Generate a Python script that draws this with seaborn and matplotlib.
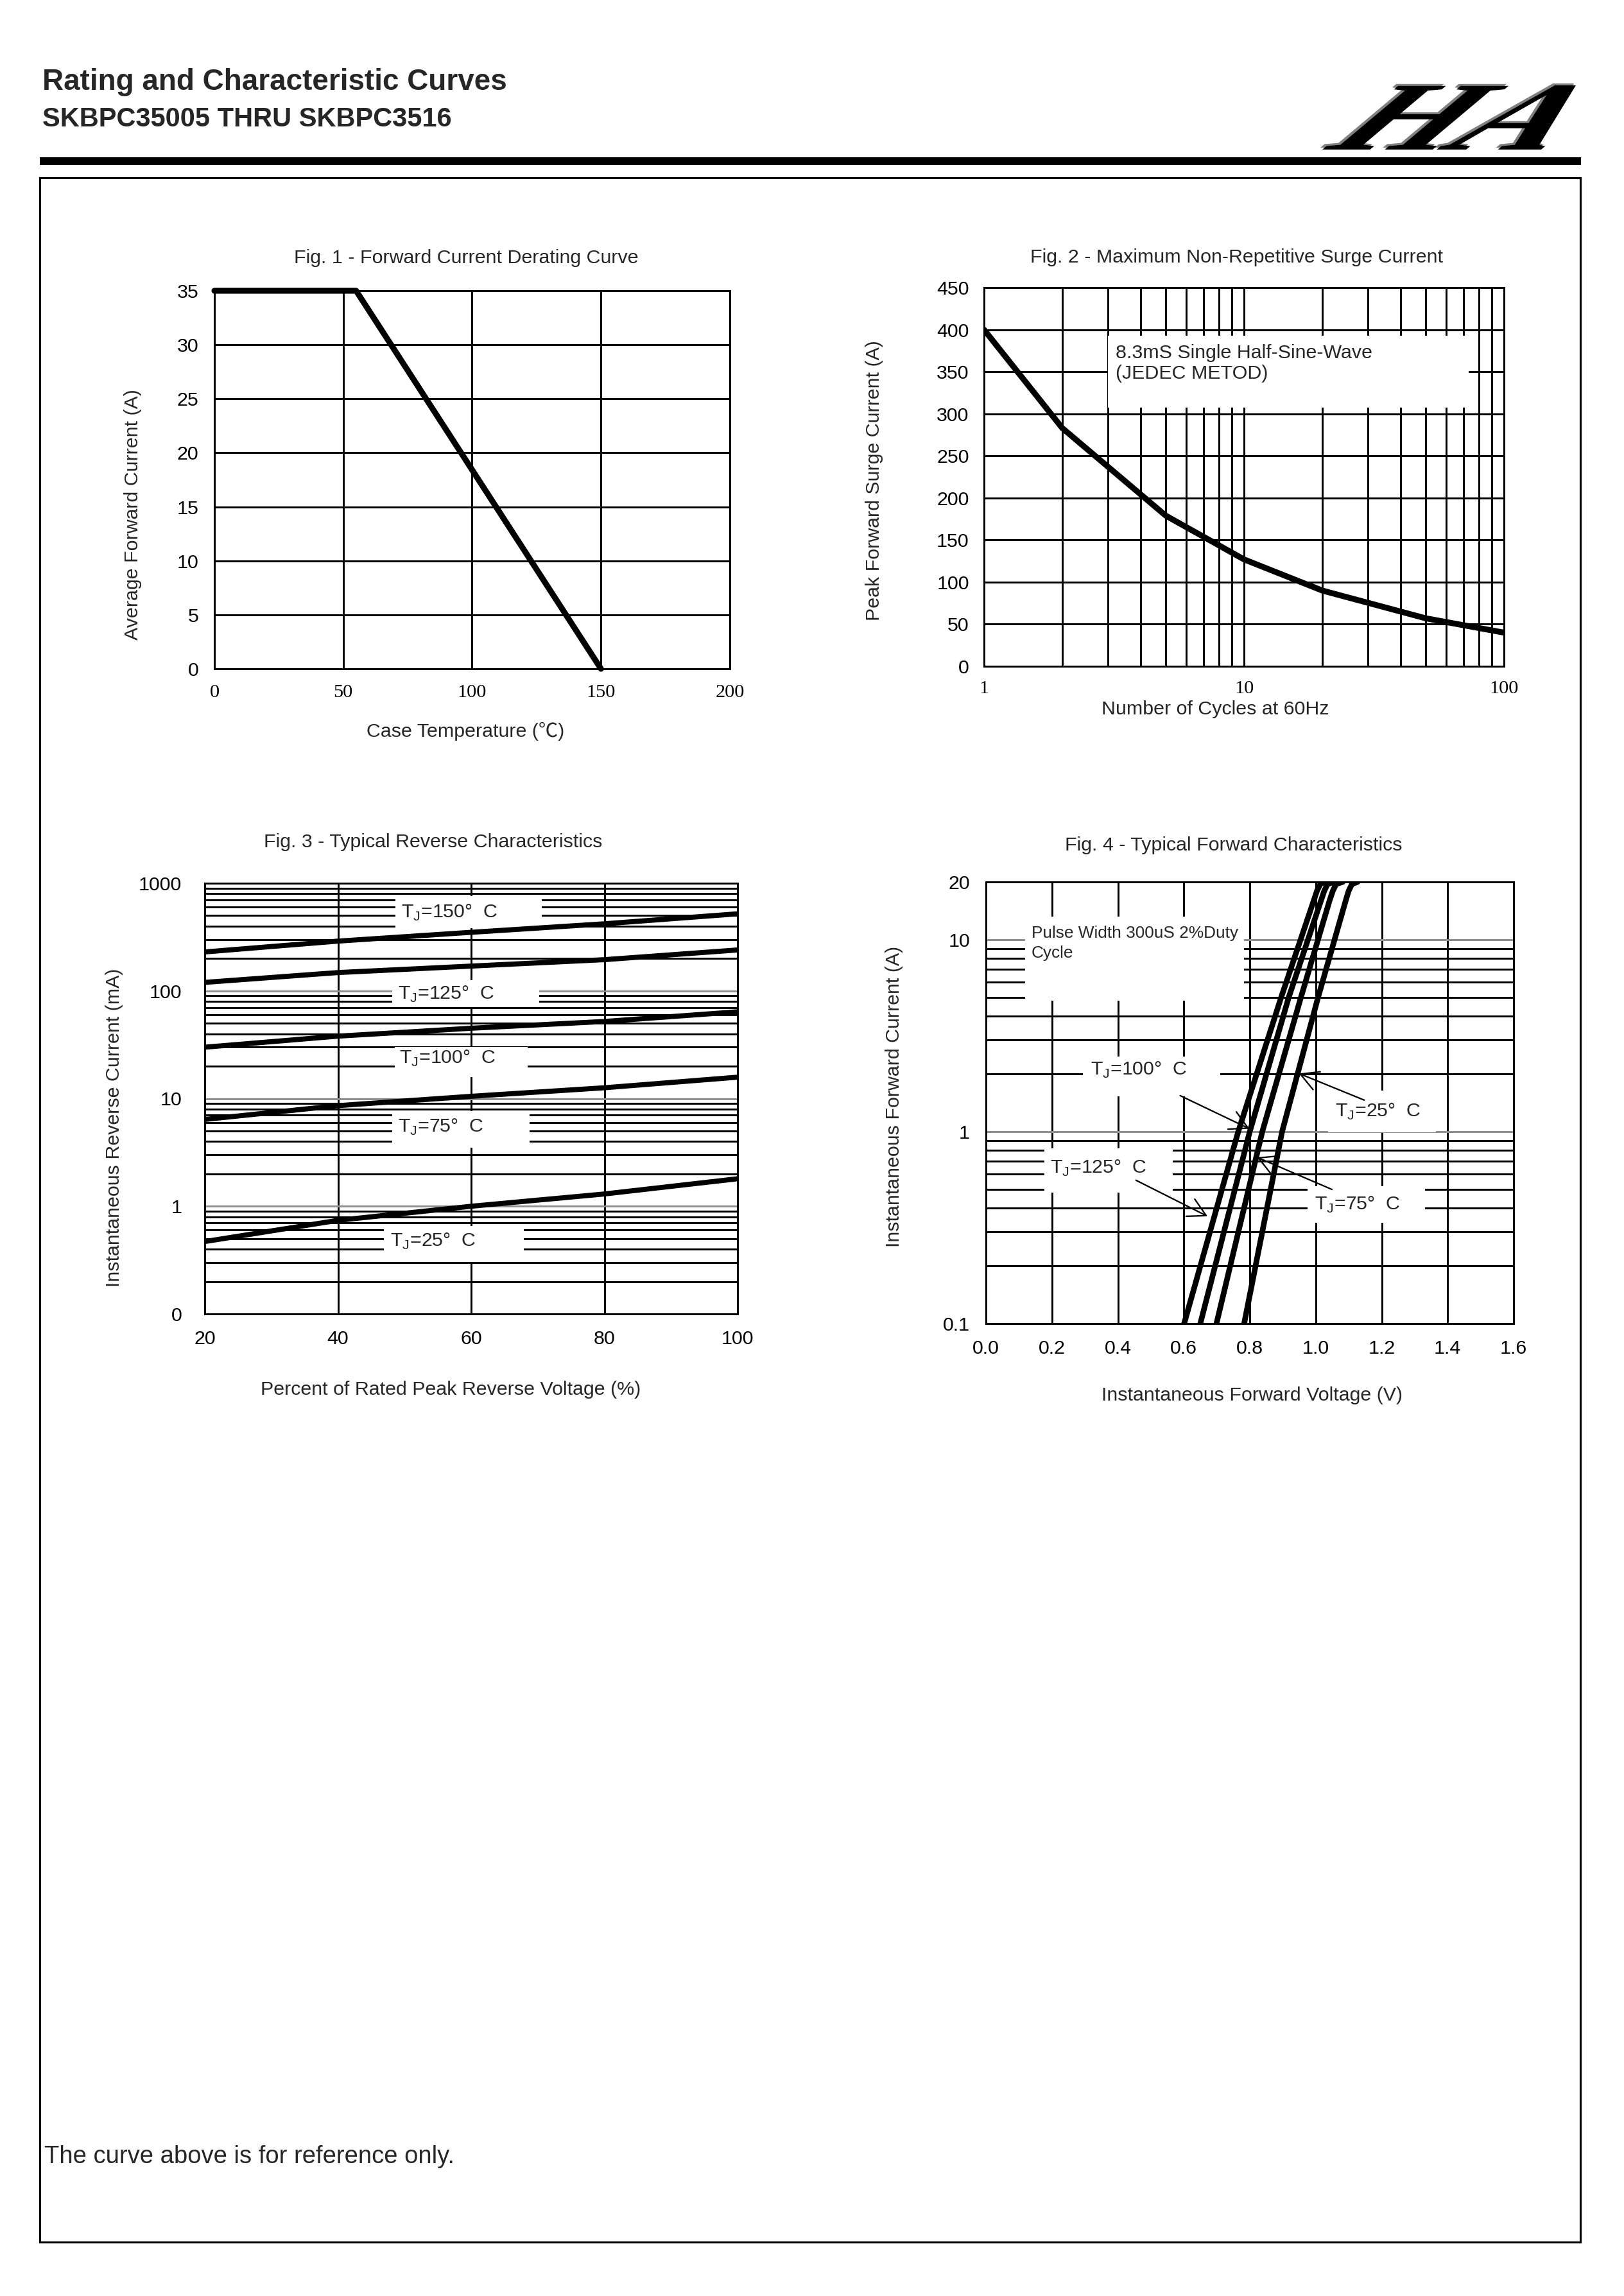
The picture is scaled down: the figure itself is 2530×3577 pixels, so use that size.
import numpy as np
import pandas as pd
import seaborn as sns
import matplotlib.pyplot as plt
from matplotlib.patches import Rectangle, PathPatch
from matplotlib.textpath import TextPath
from matplotlib.font_manager import FontProperties
from matplotlib.transforms import Affine2D
from matplotlib.ticker import LogLocator, NullFormatter, FixedLocator

# --- values ---

# Fig. 1 - derating
case_temp = [0, 55, 150]
avg_current = [35, 35, 0]

# Fig. 2 - surge current
cycles = [1, 2, 5, 10, 20, 50, 100]
surge_current = [400, 283, 179, 127, 90, 57, 40]

# Fig. 3 - reverse characteristics
rev_pct = [20, 40, 60, 80, 100]
rev_150 = [230, 290, 350, 420, 520]
rev_125 = [120, 148, 170, 195, 240]
rev_100 = [30, 38, 45, 52, 64]
rev_75 = [6.4, 8.6, 10.5, 12.6, 15.8]
rev_25 = [0.47, 0.74, 1.0, 1.3, 1.8]

# Fig. 4 - forward characteristics
fwd_current = [0.1, 1, 5, 16, 18, 19.5, 20]
fwd_125 = [0.601, 0.765, 0.895, 0.994, 1.004, 1.014, 1.030]
fwd_100 = [0.650, 0.800, 0.918, 1.016, 1.026, 1.036, 1.059]
fwd_75 = [0.699, 0.838, 0.955, 1.042, 1.052, 1.062, 1.082]
fwd_25 = [0.783, 0.898, 1.007, 1.091, 1.100, 1.110, 1.127]

W, H = 2530, 3577
DPI = 300
FS = 7.3
GRAY = '#8f8f8f'
GLW = 0.72

sns.set_theme(style='white')
plt.rcParams['font.family'] = ['Liberation Sans', 'Noto Sans CJK SC', 'DejaVu Sans']
plt.rcParams['mathtext.fontset'] = 'custom'
plt.rcParams['mathtext.rm'] = 'Liberation Sans'

fig = plt.figure(figsize=(W / DPI, H / DPI), dpi=DPI)
fig.patch.set_facecolor('white')


def fx(x):
    return x / W


def fy(y):
    return 1 - y / H


def add_ax(l, t, r, b):
    return fig.add_axes([fx(l), fy(b), (r - l) / W, (b - t) / H])


def ptext(x, y, s, **kw):
    kw.setdefault('ha', 'center')
    kw.setdefault('va', 'center')
    kw.setdefault('fontsize', FS)
    return fig.text(fx(x), fy(y), s, **kw)


def style_ax(ax, xpad, ypad):
    for sp in ax.spines.values():
        sp.set_color('black')
        sp.set_linewidth(GLW)
        sp.set_zorder(5)
    ax.set_axisbelow(True)
    ax.tick_params(which='both', length=0, labelsize=FS, colors='black')
    ax.tick_params(axis='x', pad=xpad)
    ax.tick_params(axis='y', pad=ypad)
    ax.set_xlabel('')
    ax.set_ylabel('')


def white_box(ax, x0, x1, y0, y1):
    ax.add_patch(Rectangle((x0, y0), x1 - x0, y1 - y0, facecolor='white',
                           edgecolor='none', zorder=1))


def tj_label(ax, x, y, t):
    ax.text(x, y, r'T$_\mathregular{J}$=' + t + '°  C', ha='left', va='center',
            fontsize=FS, zorder=6)


# --- page header ---
fig.text(fx(66), fy(140), 'Rating and Characteristic Curves', fontsize=11,
         fontweight='bold', ha='left', va='baseline')
fig.text(fx(66), fy(197), 'SKBPC35005 THRU SKBPC3516', fontsize=10,
         fontweight='bold', ha='left', va='baseline')
fig.patches.append(Rectangle((fx(62), fy(257)), fx(2463) - fx(62), 12 / H,
                             transform=fig.transFigure, facecolor='black',
                             edgecolor='none'))
fig.patches.append(Rectangle((fx(62), fy(3493)), fx(2462) - fx(62), (3493 - 277) / H,
                             transform=fig.transFigure, facecolor='none',
                             edgecolor='black', lw=0.75))

# logo: slanted serif "HA"
fp = FontProperties(family='Liberation Serif', weight='bold')
logo = Affine2D().skew_deg(38, 0).transform_path(TextPath((0, 0), 'HA', size=100, prop=fp))
bb = logo.get_extents()
lx0, lx1, ly0, ly1 = 2060, 2455, 133, 233
for dx, dy, col in [(-3, -3, '#808080'), (0, 0, 'black')]:
    tr = (Affine2D().translate(-bb.x0, -bb.y0)
          .scale((lx1 - lx0) / bb.width / W, (ly1 - ly0) / bb.height / H)
          .translate(fx(lx0 + dx), fy(ly1 + dy)) + fig.transFigure)
    fig.patches.append(PathPatch(logo, transform=tr, facecolor=col, edgecolor='none'))

# --- Fig. 1 ---
ax1 = add_ax(334, 453, 1137, 1042)
df1 = pd.DataFrame({'temp': case_temp, 'current': avg_current})
sns.lineplot(data=df1, x='temp', y='current', ax=ax1, color='black', lw=2.2,
             estimator=None, sort=False, clip_on=False, zorder=6)
ax1.set_xlim(0, 200)
ax1.set_ylim(0, 35)
ax1.set_xticks([0, 50, 100, 150, 200], ['0', '50', '100', '150', '200'],
               fontfamily='Liberation Serif')
ax1.set_yticks(range(0, 36, 5))
ax1.grid(True, color='black', lw=GLW)
style_ax(ax1, 5.8, 5.9)
ptext(726, 402, 'Fig. 1 - Forward Current Derating Curve')
ptext(725, 1139, 'Case Temperature (℃)')
ptext(207, 802, 'Average Forward Current (A)', rotation=90)

# --- Fig. 2 ---
ax2 = add_ax(1533, 448, 2343, 1038)
df2 = pd.DataFrame({'cycles': cycles, 'current': surge_current})
sns.lineplot(data=df2, x='cycles', y='current', ax=ax2, color='black', lw=2.2,
             estimator=None, sort=False, zorder=6)
ax2.set_xscale('log')
ax2.set_xlim(1, 100)
ax2.set_ylim(0, 450)
ax2.set_xticks([1, 10, 100], ['1', '10', '100'], fontfamily='Liberation Serif')
ax2.xaxis.set_minor_locator(LogLocator(base=10, subs=np.arange(2, 10)))
ax2.xaxis.set_minor_formatter(NullFormatter())
ax2.set_yticks(range(0, 451, 50))
ax2.grid(True, which='both', color='black', lw=GLW)
style_ax(ax2, 5.2, 5.6)
white_box(ax2, 3.0, 73, 307, 393)
ax2.text(3.2, 360, '8.3mS Single Half-Sine-Wave\n(JEDEC METOD)', ha='left',
         va='center', fontsize=FS, linespacing=1.15, zorder=6)
ptext(1926, 401, 'Fig. 2 - Maximum Non-Repetitive Surge Current')
ptext(1893, 1105, 'Number of Cycles at 60Hz')
ptext(1362, 749, 'Peak Forward Surge Current (A)', rotation=90)

# --- Fig. 3 ---
ax3 = add_ax(319, 1376, 1149, 2047)
df3 = pd.concat([pd.DataFrame({'pct': rev_pct, 'current': v, 'tj': t})
                 for t, v in [('150', rev_150), ('125', rev_125), ('100', rev_100),
                              ('75', rev_75), ('25', rev_25)]])
sns.lineplot(data=df3, x='pct', y='current', units='tj', estimator=None, ax=ax3,
             color='black', lw=1.9, zorder=6)
ax3.set_yscale('log')
ax3.set_xlim(20, 100)
ax3.set_ylim(0.1, 1000)
ax3.set_xticks([20, 40, 60, 80, 100])
ax3.set_yticks([0.1, 1, 10, 100, 1000], ['0', '1', '10', '100', '1000'])
ax3.yaxis.set_minor_locator(LogLocator(base=10, subs=np.arange(2, 10)))
ax3.yaxis.set_minor_formatter(NullFormatter())
ax3.xaxis.grid(True, which='major', color='black', lw=GLW)
ax3.yaxis.grid(True, which='major', color=GRAY, lw=GLW)
ax3.yaxis.grid(True, which='minor', color='black', lw=GLW)
style_ax(ax3, 5.9, 8.6)
for (x0, x1, y0, y1), (tx, ty, t) in [
        ((48.6, 70.6, 385, 760), (49.5, 535, '150')),
        ((48.1, 70.2, 70.8, 125.6), (49.0, 93, '125')),
        ((48.5, 68.5, 15.8, 30), (49.2, 23.7, '100')),
        ((48.1, 68.8, 3.5, 7.6), (49.0, 5.4, '75')),
        ((46.9, 67.9, 0.305, 0.66), (47.9, 0.469, '25'))]:
    white_box(ax3, x0, x1, y0, y1)
    tj_label(ax3, tx, ty, t)
ptext(675, 1312, 'Fig. 3 - Typical Reverse Characteristics')
ptext(702, 2165, 'Percent of Rated Peak Reverse Voltage (%)')
ptext(178, 1757, 'Instantaneous Reverse Current (mA)', rotation=90)

# --- Fig. 4 ---
ax4 = add_ax(1536, 1374, 2358, 2062)
df4 = pd.concat([pd.DataFrame({'volt': v, 'current': fwd_current, 'tj': t})
                 for t, v in [('125', fwd_125), ('100', fwd_100), ('75', fwd_75),
                              ('25', fwd_25)]])
sns.lineplot(data=df4, x='volt', y='current', units='tj', estimator=None, sort=False,
             ax=ax4, color='black', lw=2.1, zorder=6)
ax4.set_yscale('log')
ax4.set_xlim(0, 1.6)
ax4.set_ylim(0.1, 20)
ax4.set_xticks(np.round(np.arange(0, 1.61, 0.2), 1),
               ['0.0', '0.2', '0.4', '0.6', '0.8', '1.0', '1.2', '1.4', '1.6'])
ax4.set_yticks([0.1, 1, 10, 20], ['0.1', '1', '10', '20'])
ax4.yaxis.set_minor_locator(FixedLocator([0.2, 0.3, 0.4, 0.5, 0.6, 0.7, 0.8, 0.9,
                                          2, 3, 4, 5, 6, 7, 8, 9]))
ax4.yaxis.set_minor_formatter(NullFormatter())
ax4.xaxis.grid(True, which='major', color='black', lw=GLW)
ax4.yaxis.grid(True, which='major', color=GRAY, lw=GLW)
ax4.yaxis.grid(True, which='minor', color='black', lw=GLW)
style_ax(ax4, 5.9, 6.0)
white_box(ax4, 0.119, 0.783, 4.8, 13.2)
ax4.text(0.138, 10.2, 'Pulse Width 300uS 2%Duty', ha='left', va='baseline',
         fontsize=6.3, zorder=6)
ax4.text(0.138, 8.05, 'Cycle', ha='left', va='baseline', fontsize=6.3, zorder=6)
for (x0, x1, y0, y1), (tx, ty, t) in [
        ((0.293, 0.71, 1.53, 2.47), (0.317, 2.1, '100')),
        ((1.038, 1.365, 0.99, 1.64), (1.058, 1.27, '25')),
        ((0.177, 0.567, 0.48, 0.82), (0.195, 0.647, '125')),
        ((0.976, 1.331, 0.335, 0.52), (0.997, 0.415, '75'))]:
    white_box(ax4, x0, x1, y0, y1)
    tj_label(ax4, tx, ty, t)
for tail, head in [((0.589, 1.54), (0.799, 1.035)),
                   ((1.147, 1.46), (0.949, 2.01)),
                   ((0.455, 0.558), (0.672, 0.362)),
                   ((1.049, 0.50), (0.822, 0.735))]:
    ax4.annotate('', xy=head, xytext=tail, zorder=7,
                 arrowprops=dict(arrowstyle='->,head_length=0.55,head_width=0.3',
                                 lw=0.55, color='black', shrinkA=0, shrinkB=0))
ptext(1922, 1317, 'Fig. 4 - Typical Forward Characteristics')
ptext(1951, 2174, 'Instantaneous Forward Voltage (V)')
ptext(1393, 1708, 'Instantaneous Forward Current (A)', rotation=90)

# --- footer ---
fig.text(fx(69), fy(3370), 'The curve above is for reference only.', fontsize=9.2,
         ha='left', va='baseline')

fig.savefig('out.png', dpi=DPI, facecolor='white')
